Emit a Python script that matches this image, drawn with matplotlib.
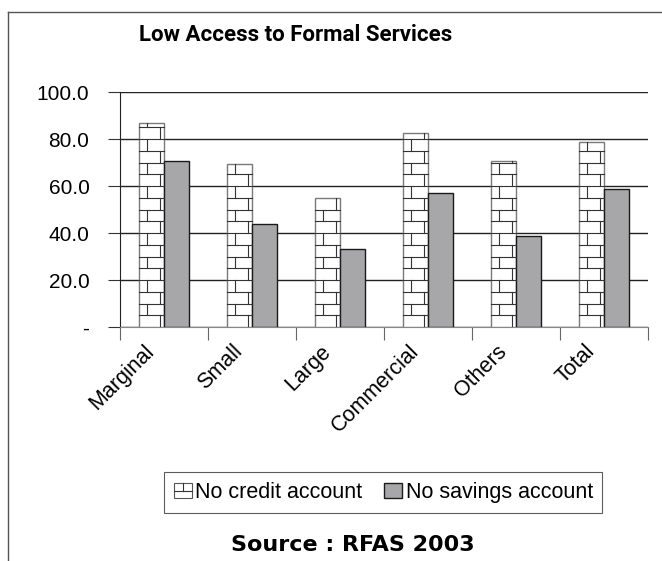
import matplotlib
matplotlib.use("Agg")
from matplotlib import pyplot as plt
from matplotlib.patches import Rectangle
from matplotlib.lines import Line2D
import matplotlib.transforms as mtransforms
import numpy as np

# data
categories = ["Marginal", "Small", "Large", "Commercial", "Others", "Total"]
no_credit = [86.7, 69.2, 54.8, 82.7, 70.6, 78.7]
no_savings = [70.6, 43.8, 33.0, 57.2, 38.7, 58.6]
yticks = [0, 20, 40, 60, 80, 100]
ytick_labels = ["-", "20.0", "40.0", "60.0", "80.0", "100.0"]

plt.rcParams['font.family'] = ['Liberation Sans', 'DejaVu Sans']

fig = plt.figure(figsize=(6.62, 5.61), dpi=100)
ax = fig.add_axes([0.1813, 0.4171, 0.7976, 0.4189])

x = np.arange(len(categories)) + 0.5
w = 0.285
brick_h = 5.0

cred = ax.bar(x - w/2, no_credit, w, color="white", edgecolor="#7a7a7a", lw=1.0, zorder=3,
              label="No credit account")
sav = ax.bar(x + w/2, no_savings, w, color="#a7a7a9", edgecolor="#1a1a1a", lw=1.0, zorder=3,
             label="No savings account")

# brick pattern on the credit bars
for r in cred:
    x0, bw, h = r.get_x(), r.get_width(), r.get_height()
    n = int(np.ceil(h / brick_h))
    for k in range(n):
        y0 = k * brick_h
        y1 = min(y0 + brick_h, h)
        if k > 0:
            ax.plot([x0, x0 + bw], [y0, y0], color="#333333", lw=0.8, zorder=4)
        xv = x0 + (0.82 if k % 2 == 0 else 0.32) * bw
        ax.plot([xv, xv], [y0, y1], color="#333333", lw=0.8, zorder=4)

ax.set_xlim(0, len(categories))
ax.set_ylim(0, 100)
ax.set_yticks(yticks)
ax.set_yticklabels(ytick_labels, fontsize=15)
ax.yaxis.grid(True, color="#222222", lw=1.0, zorder=0)
ax.set_axisbelow(True)

ax.set_xticks(np.arange(len(categories) + 1))
ax.set_xticklabels([])
ax.set_xticks(x, minor=True)
ax.set_xticklabels(categories, minor=True, rotation=45, ha="right", va="top",
                   rotation_mode="anchor", fontsize=15.5)
ax.tick_params(axis="x", which="minor", length=0, pad=10)
ax.tick_params(axis="x", which="major", length=9, direction="out", color="#666666")
ax.tick_params(axis="y", length=9, direction="out", color="#333333", pad=13)
shift = mtransforms.ScaledTranslation(-0.2, 0, fig.dpi_scale_trans)
for lab in ax.get_xticklabels(minor=True):
    lab.set_transform(lab.get_transform() + shift)

for s in ["top", "right"]:
    ax.spines[s].set_visible(False)
ax.spines["left"].set_color("#222222")
ax.spines["bottom"].set_color("#888888")


class BrickHandler:
    def legend_artist(self, legend, orig_handle, fontsize, handlebox):
        x0, y0 = handlebox.xdescent, handlebox.ydescent
        hw, hh = handlebox.width, handlebox.height
        t = handlebox.get_transform()
        rect = Rectangle((x0, y0), hw, hh, fc="white", ec="#555555", lw=0.8, transform=t)
        handlebox.add_artist(rect)
        handlebox.add_artist(Line2D([x0, x0 + hw], [y0 + hh/2, y0 + hh/2], color="#333333",
                                    lw=0.8, transform=t))
        handlebox.add_artist(Line2D([x0 + hw/2, x0 + hw/2], [y0 + hh/2, y0 + hh], color="#333333",
                                    lw=0.8, transform=t))
        return rect


leg = fig.legend([cred, sav], ["No credit account", "No savings account"],
                 loc="center", bbox_to_anchor=(0.579, 0.122), ncol=2, fontsize=15.5,
                 frameon=True, fancybox=False, edgecolor="#333333",
                 handlelength=0.85, handleheight=0.7, handletextpad=0.15, columnspacing=1.0,
                 borderpad=0.45, borderaxespad=0, handler_map={cred: BrickHandler()})
leg.get_frame().set_linewidth(0.8)

fig.text(0.446, 0.937, "Low Access to Formal Services", ha="center", va="center",
         fontsize=16, fontweight="bold", family="Roboto")
fig.text(0.533, 0.028, "Source : RFAS 2003", ha="center", va="center",
         fontsize=16, fontweight="bold", family="DejaVu Sans")

# outer frame lines (top and left)
fig.add_artist(Line2D([0.012, 1.0], [0.979, 0.979], color="#555555", lw=1.0))
fig.add_artist(Line2D([0.012, 0.012], [0.0, 0.979], color="#555555", lw=1.0))

fig.savefig("out.png", dpi=100)
